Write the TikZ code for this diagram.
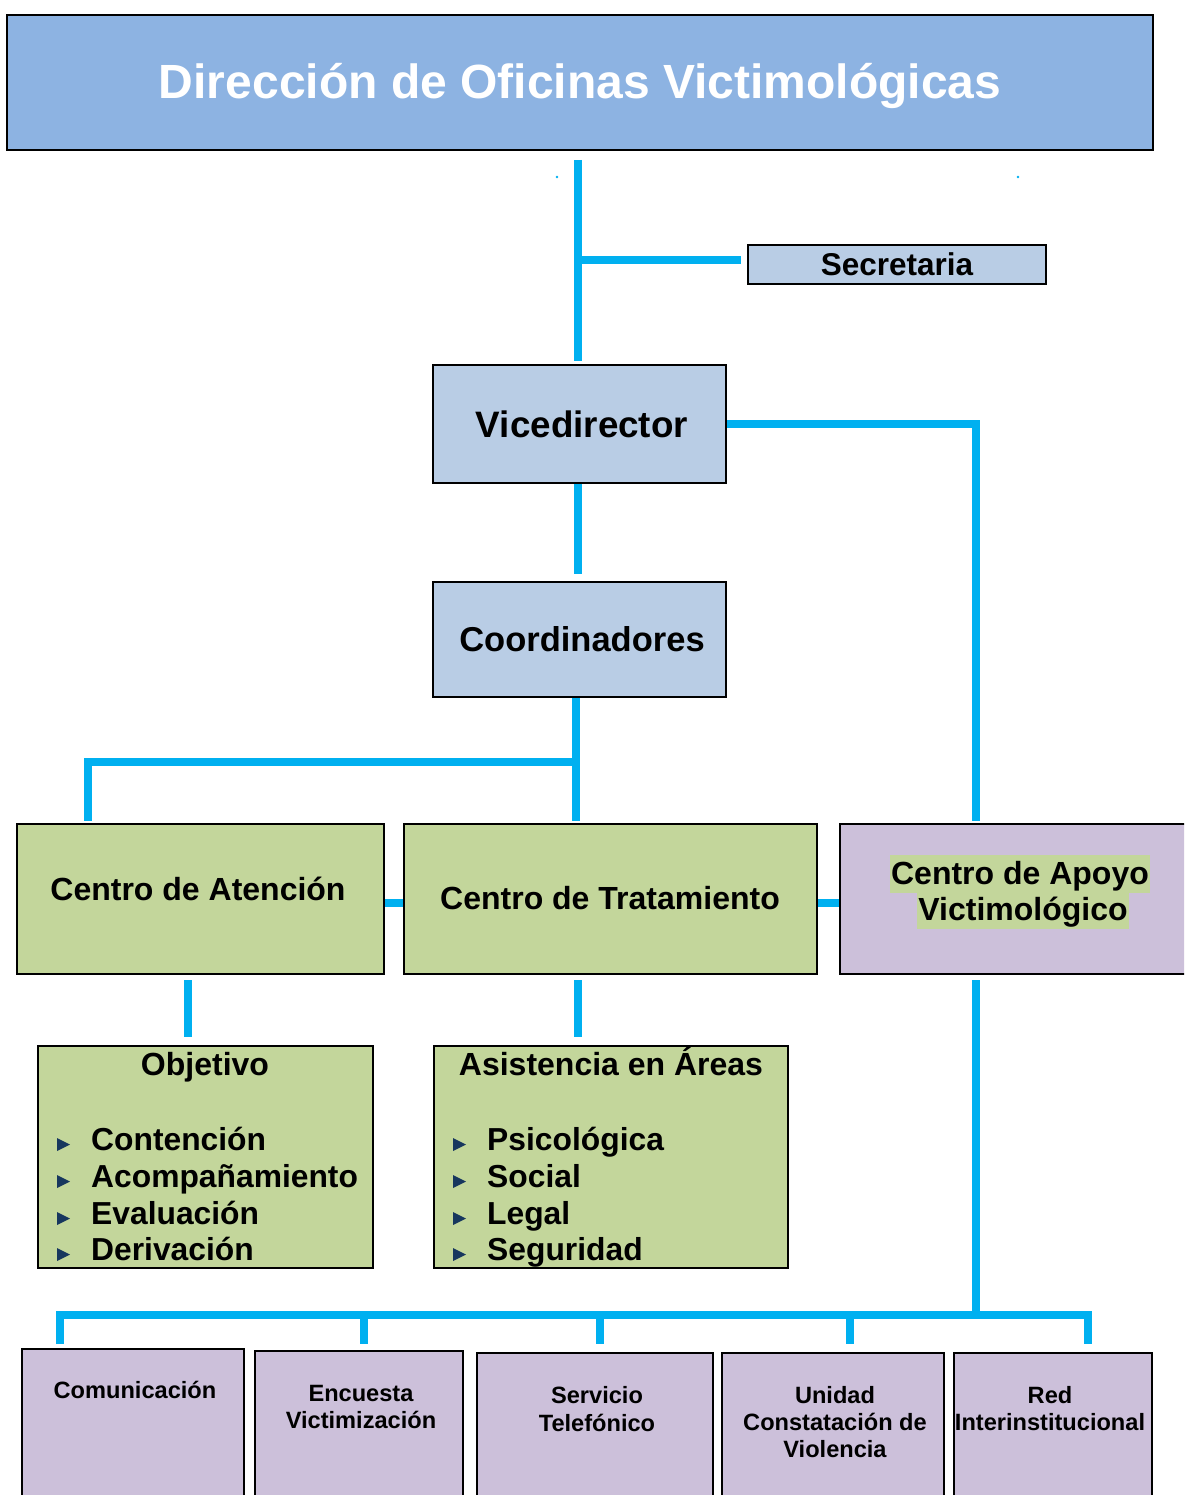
\documentclass[tikz,border=0pt]{standalone}
\usepackage{fontspec}
\setmainfont{Liberation Sans}
\definecolor{titleblue}{HTML}{8DB3E2}
\definecolor{lightblue}{HTML}{B9CDE5}
\definecolor{greenbox}{HTML}{C3D69B}
\definecolor{lavender}{HTML}{CCC0DA}
\definecolor{cyanline}{HTML}{00B0F0}
\definecolor{bulletblue}{HTML}{17375E}
\begin{document}
\begin{tikzpicture}[x=1pt,y=-1pt,
  box/.style={draw=black, line width=2pt, inner sep=0pt},
  conn/.style={draw=cyanline, line width=7.5pt},
  lbl/.style={inner sep=0pt, anchor=base},
  fbig/.style={font=\fontsize{48}{56}\selectfont\bfseries},
  fvice/.style={font=\fontsize{36.8}{42}\selectfont\bfseries},
  fcoord/.style={font=\fontsize{34.5}{40}\selectfont\bfseries},
  fmid/.style={font=\fontsize{32}{38}\selectfont\bfseries},
  fsec/.style={font=\fontsize{31.5}{37}\selectfont\bfseries},
  fhead/.style={font=\fontsize{32}{38}\selectfont\bfseries},
  fsmall/.style={font=\fontsize{23.6}{27}\selectfont\bfseries},
  item/.style={lbl, anchor=base west, font=\fontsize{31.8}{37}\selectfont\bfseries},
  hl/.style={fill=greenbox, inner xsep=1pt, inner ysep=0pt, anchor=base, text height=29pt, text depth=8.5pt}
]
\useasboundingbox (0,0) rectangle (1184,1495);
\begin{scope}
\clip (0,0) rectangle (1184,1495);
% boxes
\node[box, fill=titleblue, minimum width=1146pt, minimum height=135pt] (title) at (580,82.5) {};
\node[box, fill=lightblue, minimum width=298pt, minimum height=39pt] (secr) at (897,264.5) {};
\node[box, fill=lightblue, minimum width=293pt, minimum height=118pt] (vice) at (579.5,424) {};
\node[box, fill=lightblue, minimum width=293pt, minimum height=115pt] (coord) at (579.5,639.5) {};
\node[box, fill=greenbox, minimum width=367pt, minimum height=150pt] (aten) at (200.5,899) {};
\node[box, fill=greenbox, minimum width=413pt, minimum height=150pt] (trat) at (610.5,899) {};
\node[box, fill=lavender, minimum width=350pt, minimum height=150pt] (apoyo) at (1015,899) {};
\node[box, fill=greenbox, minimum width=335pt, minimum height=222pt] (obj) at (205.5,1157) {};
\node[box, fill=greenbox, minimum width=354pt, minimum height=222pt] (asis) at (611,1157) {};
\node[box, fill=lavender, minimum width=222pt, minimum height=161pt] (b1) at (133,1429.5) {};
\node[box, fill=lavender, minimum width=208pt, minimum height=159pt] (b2) at (359,1430.5) {};
\node[box, fill=lavender, minimum width=236pt, minimum height=157pt] (b3) at (595,1431.5) {};
\node[box, fill=lavender, minimum width=222pt, minimum height=157pt] (b4) at (833,1431.5) {};
\node[box, fill=lavender, minimum width=198pt, minimum height=157pt] (b5) at (1053,1431.5) {};
\end{scope}

% connectors
\coordinate (t1) at (578,160);
\draw[conn, shorten >=3pt] (t1) -- (t1 |- vice.north);
\coordinate (s1) at (578,260);
\draw[conn, shorten >=6pt] (s1) -- (s1 -| secr.west);
\coordinate (va) at (976,424);
\draw[conn, shorten >=2pt] (vice.east) -- (va) -- (va |- apoyo.north);
\draw[conn, shorten >=7pt] (t1 |- vice.south) -- (t1 |- coord.north);
\coordinate (cj) at (576,762);
\coordinate (aj) at (88,762);
\draw[conn, shorten >=2pt] (cj |- coord.south) -- (cj |- aten.north);
\draw[conn, shorten >=2pt] (cj) -- (aj) -- (aj |- aten.north);
\draw[conn] ([yshift=-4pt]aten.east) -- ([yshift=-4pt]trat.west);
\draw[conn] ([yshift=-4pt]trat.east) -- ([yshift=-4pt]apoyo.west);
\coordinate (ad) at (188,980);
\coordinate (td) at (578,980);
\coordinate (pd) at (976,980);
\draw[conn, shorten >=8pt] (ad) -- (ad |- obj.north);
\draw[conn, shorten >=8pt] (td) -- (td |- asis.north);
\coordinate (bus) at (976,1315);
\draw[conn] (pd) -- (bus);
\coordinate (bl) at (60,1315);
\coordinate (br) at (1088,1315);
\draw[conn, shorten <=4pt, shorten >=8pt] (bl |- b1.north) -- (bl) -- (br) -- (br |- b5.north);
\coordinate (d2) at (364,1315);
\coordinate (d3) at (600,1315);
\coordinate (d4) at (850,1315);
\draw[conn, shorten >=6pt] (d2) -- (d2 |- b2.north);
\draw[conn, shorten >=8pt] (d3) -- (d3 |- b3.north);
\draw[conn, shorten >=8pt] (d4) -- (d4 |- b4.north);
\fill[cyanline] (557,177) circle (1.3pt);
\fill[cyanline] (1018,177) circle (1.3pt);

% texts
\node[lbl, fbig, text=white] (titletext) at (580,99) {Dirección de Oficinas Victimológicas};
\node[lbl, fsec] (secrtext) at (897,275.5) {Secretaria};
\node[lbl, fvice] (vicetext) at (582,437) {Vicedirector};
\node[lbl, fcoord] (coordtext) at (582,651) {Coordinadores};
\node[lbl, fmid] (atentext) at (198,900) {Centro de Atención};
\node[lbl, fmid] (trattext) at (610,909) {Centro de Tratamiento};
\node[hl, fmid] (apoyo1) at (1020,884) {Centro de Apoyo};
\node[hl, fmid] (apoyo2) at (1023,920) {Victimológico};

\node[lbl, fhead] (objtitle) at (205,1075) {Objetivo};
\node[item] (o1) at (91,1150) {Contención};
\node[item] (o2) at (91,1187) {Acompañamiento};
\node[item] (o3) at (91,1224) {Evaluación};
\node[item] (o4) at (91,1260) {Derivación};
\node[lbl, fhead] (asistitle) at (611,1075) {Asistencia en Áreas};
\node[item] (a1) at (487,1150) {Psicológica};
\node[item] (a2) at (487,1187) {Social};
\node[item] (a3) at (487,1224) {Legal};
\node[item] (a4) at (487,1260) {Seguridad};
\foreach \b in {1150,1187,1224,1260}{
  \fill[bulletblue] (57,\b-12) -- (70,\b-5.5) -- (57,\b+1) -- cycle;
  \fill[bulletblue] (453,\b-12) -- (466,\b-5.5) -- (453,\b+1) -- cycle;
}

\node[lbl, fsmall] (b1t) at (135,1398) {Comunicación};
\node[lbl, fsmall] (b2t1) at (361,1401) {Encuesta};
\node[lbl, fsmall] (b2t2) at (361,1428) {Victimización};
\node[lbl, fsmall] (b3t1) at (597,1403) {Servicio};
\node[lbl, fsmall] (b3t2) at (597,1431) {Telefónico};
\node[lbl, fsmall] (b4t1) at (835,1403) {Unidad};
\node[lbl, fsmall] (b4t2) at (835,1430) {Constatación de};
\node[lbl, fsmall] (b4t3) at (835,1457) {Violencia};
\node[lbl, fsmall] (b5t1) at (1050,1403) {Red};
\node[lbl, fsmall] (b5t2) at (1050,1430) {Interinstitucional};
\end{tikzpicture}
\end{document}
